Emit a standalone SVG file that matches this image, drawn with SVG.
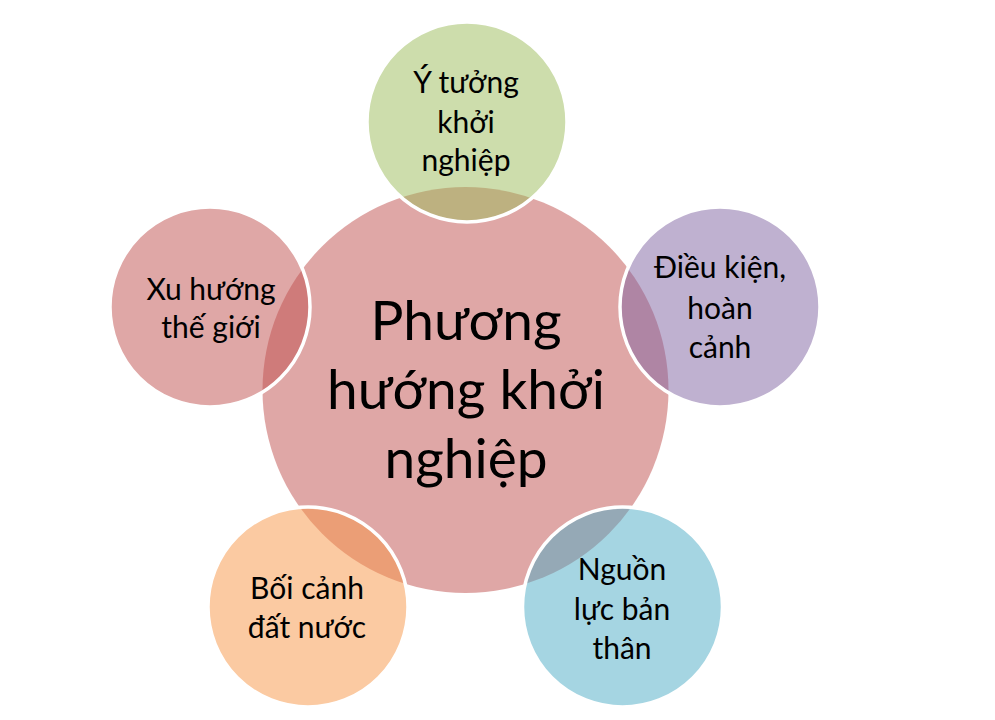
<svg xmlns="http://www.w3.org/2000/svg" width="995" height="720" viewBox="0 0 995 720">
<style>
.bg{fill:#ffffff}
.c{stroke:none}
.o{stroke:#ffffff;stroke-width:3.5;fill-opacity:0.5}
.t{font-family:Lato,"Open Sans","Liberation Sans",sans-serif;fill:#000000;text-anchor:middle}
.s{font-size:30px}
.b{font-size:55px}
</style>
<rect class="bg" x="0" y="0" width="995" height="720"/>
<g id="center">
<circle class="c" cx="465.5" cy="390" r="203" fill="#C0504D" fill-opacity="0.5"/>
<text class="t b" x="466" y="340">Phương</text>
<text class="t b" x="466" y="409">hướng khởi</text>
<text class="t b" x="466" y="478">nghiệp</text>
</g>
<g id="connectors"></g>
<g id="idea">
<circle class="o" cx="467" cy="122" r="100" fill="#9BBB59"/>
<text class="t s" x="466" y="93">Ý tưởng</text>
<text class="t s" x="466" y="133">khởi</text>
<text class="t s" x="466" y="171">nghiệp</text>
</g>
<g id="conditions">
<circle class="o" cx="720" cy="307" r="100" fill="#8064A2"/>
<text class="t s" x="720" y="278">Điều kiện,</text>
<text class="t s" x="720" y="319">hoàn</text>
<text class="t s" x="720" y="358">cảnh</text>
</g>
<g id="resources">
<circle class="o" cx="622.5" cy="607" r="100" fill="#4BACC6"/>
<text class="t s" x="622" y="580">Nguồn</text>
<text class="t s" x="622" y="620">lực bản</text>
<text class="t s" x="622" y="659">thân</text>
</g>
<g id="country">
<circle class="o" cx="308" cy="607" r="100" fill="#F79646"/>
<text class="t s" x="307" y="599">Bối cảnh</text>
<text class="t s" x="307" y="638">đất nước</text>
</g>
<g id="world">
<circle class="o" cx="210" cy="307" r="100" fill="#C0504D"/>
<text class="t s" x="211" y="300">Xu hướng</text>
<text class="t s" x="211" y="338">thế giới</text>
</g>
</svg>
